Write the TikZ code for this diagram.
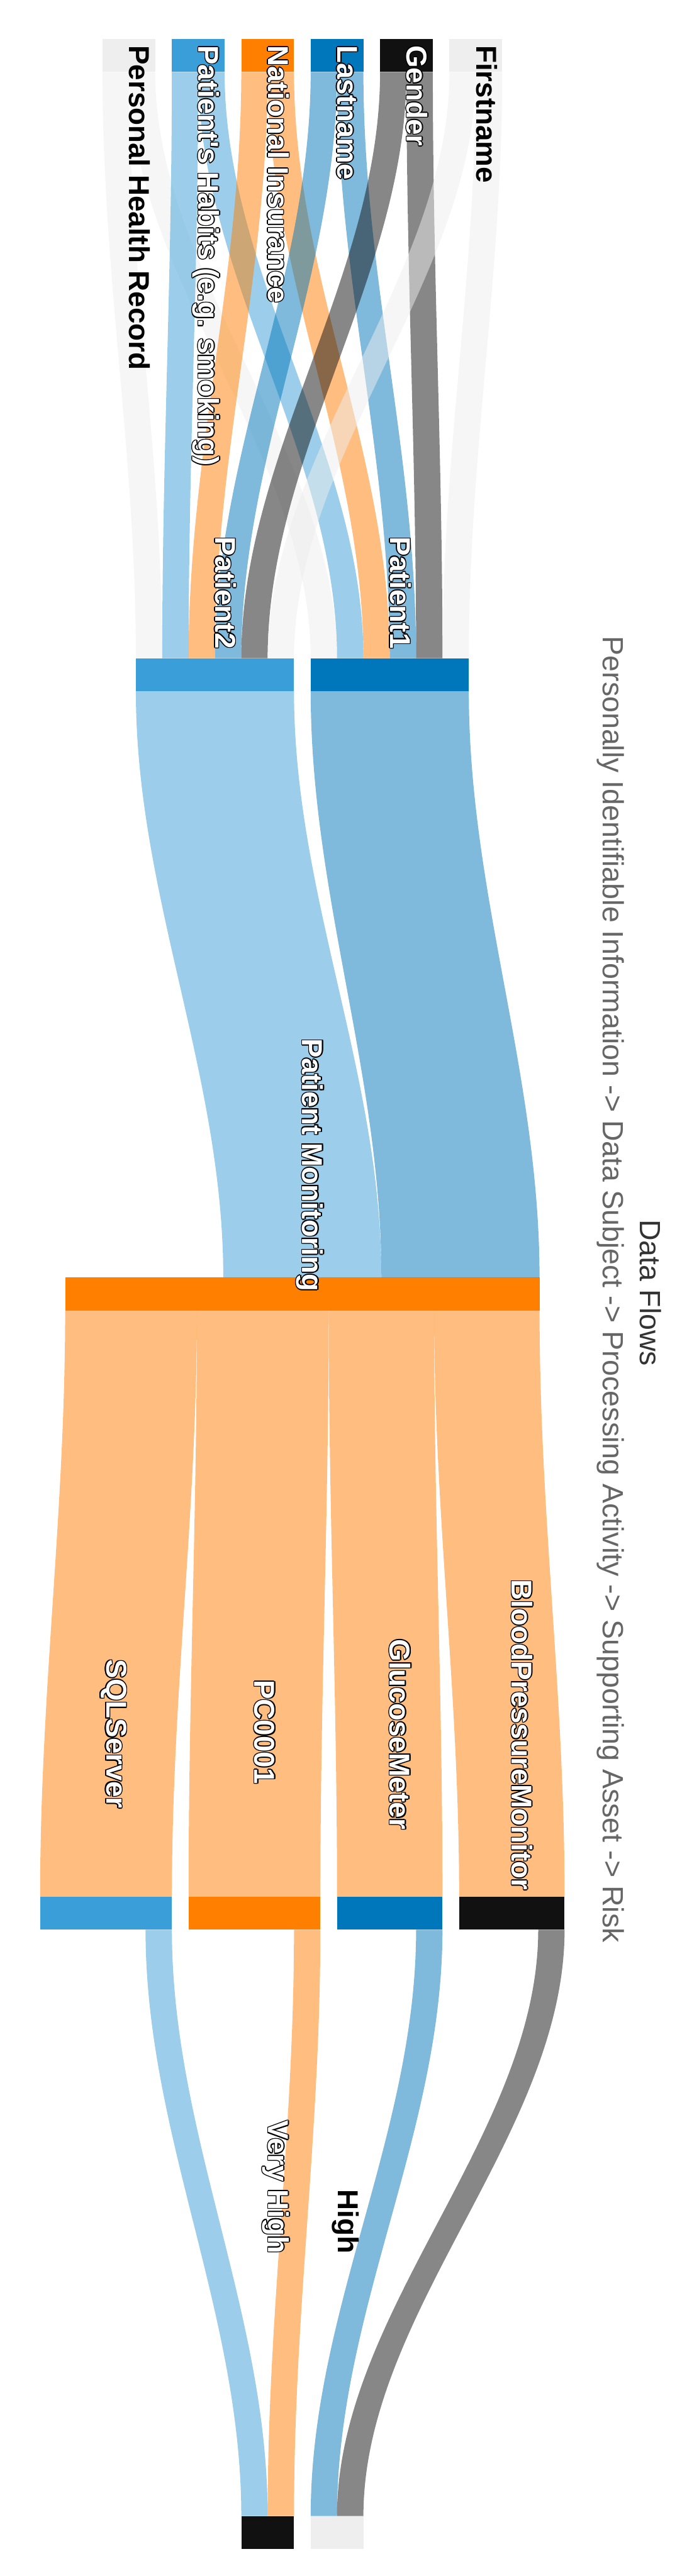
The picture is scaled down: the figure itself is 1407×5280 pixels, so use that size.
\documentclass[tikz,border=0pt]{standalone}
\usepackage{fontspec}
\setmainfont{Liberation Sans}[Ligatures=TeXOff]
\usetikzlibrary{calc}
\definecolor{cLB}{HTML}{3A9FD9}
\definecolor{cB}{HTML}{0077BB}
\definecolor{cO}{HTML}{FF7F00}
\definecolor{cK}{HTML}{111111}
\definecolor{cG}{HTML}{EEEEEE}
\definecolor{ctitle}{HTML}{333333}
\definecolor{csub}{HTML}{666666}
\newlength\ow \setlength\ow{2pt}
\newlength\owd \setlength\owd{1.5pt}
\newcommand\outl[1]{{\setbox0=\hbox{#1}%
 \rlap{\color{black}%
  \rlap{\kern-\ow\copy0}\rlap{\kern\ow\copy0}%
  \rlap{\raise\ow\copy0}\rlap{\lower\ow\copy0}%
  \rlap{\kern-\owd\raise\owd\copy0}\rlap{\kern\owd\raise\owd\copy0}%
  \rlap{\kern-\owd\lower\owd\copy0}\rlap{\kern\owd\lower\owd\copy0}}%
 \box0}}
\newcommand\flow[6]{%
 \fill[#1,band] ($(#2.south west)+(#3,0)$) .. controls ($(#2.south west)+(#3,419)$) and ($(#4.north west)+(#5,-419)$) .. ($(#4.north west)+(#5,0)$)
 -- ($(#4.north west)+(#5+#6,0)$) .. controls ($(#4.north west)+(#5+#6,-419)$) and ($(#2.south west)+(#3+#6,419)$) .. ($(#2.south west)+(#3+#6,0)$) -- cycle;}
\tikzset{
 bar/.style={rectangle, inner sep=0pt, outer sep=0pt, minimum height=67.5pt, anchor=north west, draw=none},
 lab/.style={rotate=-90, inner sep=0pt, font=\fontsize{59}{70}\selectfont\bfseries},
 wlab/.style={lab, text=white},
 klab/.style={lab, text=black},
 band/.style={fill opacity=0.5},
 ttl/.style={rotate=-90, inner sep=0pt, anchor=base, font=\fontsize{60}{72}\selectfont}
}
\begin{document}
\begin{tikzpicture}[x=1pt,y=-1pt]
\fill[white] (0,0) rectangle (1407,5280);
\useasboundingbox (0,0) rectangle (1407,5280);
% level 1
\node[bar, fill=cG,  minimum width=108pt] (phr) at (210,80) {};
\node[bar, fill=cLB, minimum width=108pt] (hab) at (352.2,80) {};
\node[bar, fill=cO,  minimum width=108pt] (ni)  at (494.4,80) {};
\node[bar, fill=cB,  minimum width=108pt] (ln)  at (636.6,80) {};
\node[bar, fill=cK,  minimum width=108pt] (gen) at (778.8,80) {};
\node[bar, fill=cG,  minimum width=108pt] (fn)  at (921,80) {};
% level 2
\node[bar, fill=cLB, minimum width=324pt] (p2) at (278.4,1349.25) {};
\node[bar, fill=cB,  minimum width=324pt] (p1) at (636.6,1349.25) {};
% level 3
\node[bar, fill=cO, minimum width=972pt] (pm) at (133.5,2618.5) {};
% level 4
\node[bar, fill=cLB, minimum width=270pt] (sql) at (82.2,3887.75) {};
\node[bar, fill=cO,  minimum width=270pt] (pc)  at (386.4,3887.75) {};
\node[bar, fill=cB,  minimum width=216pt] (gm)  at (690.6,3887.75) {};
\node[bar, fill=cK,  minimum width=216pt] (bpm) at (940.8,3887.75) {};
% level 5
\node[bar, fill=cK, minimum width=108pt] (vh) at (494.4,5157) {};
\node[bar, fill=cG, minimum width=108pt] (hi) at (636.6,5157) {};
% flows level 1 -> 2
\flow{cG}{phr}{0}{p2}{0}{54}
\flow{cG}{phr}{54}{p1}{0}{54}
\flow{cLB}{hab}{0}{p2}{54}{54}
\flow{cLB}{hab}{54}{p1}{54}{54}
\flow{cO}{ni}{0}{p2}{108}{54}
\flow{cO}{ni}{54}{p1}{108}{54}
\flow{cB}{ln}{0}{p2}{162}{54}
\flow{cB}{ln}{54}{p1}{162}{54}
\flow{cK}{gen}{0}{p2}{216}{54}
\flow{cK}{gen}{54}{p1}{216}{54}
\flow{cG}{fn}{0}{p2}{270}{54}
\flow{cG}{fn}{54}{p1}{270}{54}
% level 2 -> 3
\flow{cLB}{p2}{0}{pm}{324}{324}
\flow{cB}{p1}{0}{pm}{648}{324}
% level 3 -> 4
\flow{cO}{pm}{0}{sql}{0}{270}
\flow{cO}{pm}{270}{pc}{0}{270}
\flow{cO}{pm}{540}{gm}{0}{216}
\flow{cO}{pm}{756}{bpm}{0}{216}
% level 4 -> 5
\flow{cLB}{sql}{216}{vh}{0}{54}
\flow{cO}{pc}{216}{vh}{54}{54}
\flow{cB}{gm}{162}{hi}{0}{54}
\flow{cK}{bpm}{162}{hi}{54}{54}
% labels
\node[klab, anchor=base west] (tphr) at (265,93) {Personal Health Record};
\node[wlab, anchor=base west] (thab) at (407,93) {\outl{Patient's Habits (e.g. smoking)}};
\node[wlab, anchor=base west] (tni)  at (549.4,93) {\outl{National Insurance}};
\node[wlab, anchor=base west] (tln)  at (691.6,93) {\outl{Lastname}};
\node[wlab, anchor=base west] (tgen) at (833.8,93) {\outl{Gender}};
\node[klab, anchor=base west] (tfn)  at (976,93) {Firstname};
\node[wlab, anchor=base east] (tp2) at (441.4,1330) {\outl{Patient2}};
\node[wlab, anchor=base east] (tp1) at (799.6,1330) {\outl{Patient1}};
\node[wlab, anchor=base west] (tpm) at (620,2129) {\outl{Patient Monitoring}};
\node[wlab, anchor=base] (tsql) at (218,3554) {\outl{SQLServer}};
\node[wlab, anchor=base] (tpc)  at (522,3550) {\outl{PC0001}};
\node[wlab, anchor=base] (tgm)  at (799,3555) {\outl{GlucoseMeter}};
\node[wlab, anchor=base] (tbpm) at (1049,3556) {\outl{BloodPressureMonitor}};
\node[wlab, anchor=base east] (tvh) at (550,4619) {\outl{Very High}};
\node[klab, anchor=base east] (thi) at (693,4619) {High};
% titles
\node[ttl, text=ctitle] (title) at (1311,2650) {Data Flows};
\node[ttl, text=csub] (subtitle) at (1236,2643) {Personally Identifiable Information -> Data Subject -> Processing Activity -> Supporting Asset -> Risk};
\end{tikzpicture}
\end{document}
